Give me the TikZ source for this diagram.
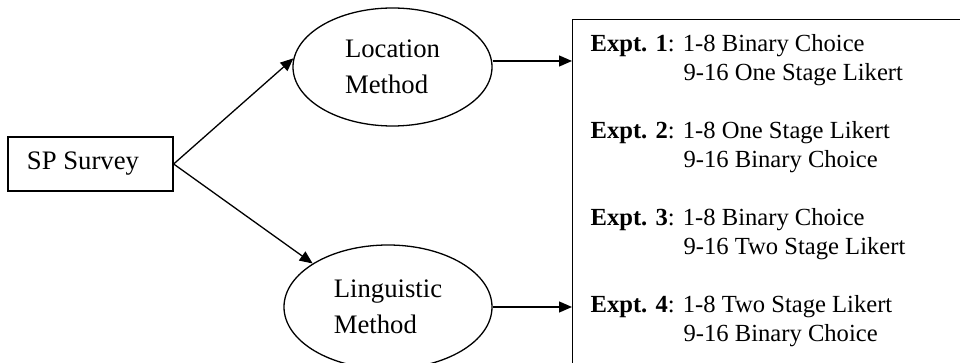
\documentclass[tikz,border=0pt]{standalone}
\usepackage{fontspec}
\setmainfont{Liberation Serif}
\usetikzlibrary{
arrows.meta,
positioning,
calc,
shapes.geometric
}

\begin{document}
\begin{tikzpicture}[
        x=0.5pt, y=-0.5pt,
        line width=0.65pt,
        every node/.style={font=\fontsize{13.35}{17.75}\selectfont, align=left},
        survey/.style={draw, rectangle, minimum height=27pt, inner xsep=9.5pt},
        method/.style={draw, ellipse, inner sep=0pt},
        expbox/.style={draw, rectangle, minimum width=201.5pt, minimum height=180.5pt, anchor=north west},
        link/.style={-{Triangle[length=6.5pt, width=5.5pt]}}
    ]
        \path[use as bounding box, clip] (0,0) rectangle (960,363);

        \node[survey] (survey) at (90.5,164) {SP Survey\hspace*{7.5pt}};
        \node[method, minimum width=99.5pt, minimum height=59pt] (loc) at (392.5,67) {Location\\Method};
        \node[method, minimum width=104pt, minimum height=62pt] (ling) at (388,307) {Linguistic\\Method};
        \node[expbox] (expts) at (572,19) {};
        \node[below right=7.5pt and 9pt of expts.north west, anchor=north west, inner sep=0pt,
              font=\fontsize{12.3}{14.5}\selectfont] (list) {%
            \textbf{Expt. 1}: 1-8 Binary Choice\\
            \hspace*{46.5pt}9-16 One Stage Likert\\[14.5pt]
            \textbf{Expt. 2}: 1-8 One Stage Likert\\
            \hspace*{46.5pt}9-16 Binary Choice\\[14.5pt]
            \textbf{Expt. 3}: 1-8 Binary Choice\\
            \hspace*{46.5pt}9-16 Two Stage Likert\\[14.5pt]
            \textbf{Expt. 4}: 1-8 Two Stage Likert\\
            \hspace*{46.5pt}9-16 Binary Choice};
        \coordinate (locout) at ($(loc.east)+(0,-6)$);

        \draw[link] (survey.east) -- (loc.175);
        \draw[link] (survey.east) -- (ling.150);
        \draw[link] (locout) -- (locout -| expts.west);
        \draw[link] (ling.east) -- (ling.east -| expts.west);
    \end{tikzpicture}
\end{document}
